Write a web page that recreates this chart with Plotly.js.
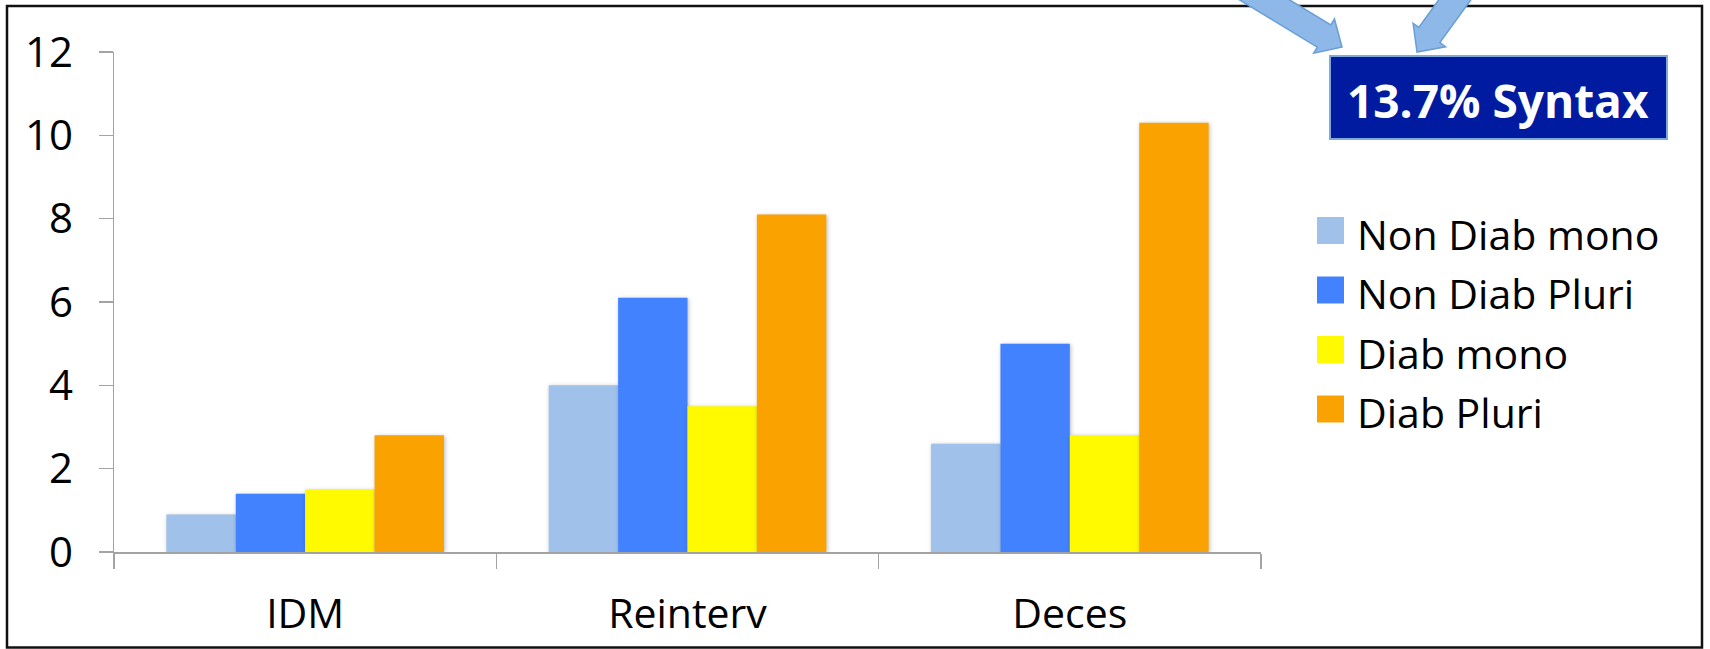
<!DOCTYPE html>
<html>
<head>
<meta charset="utf-8">
<script src="https://cdn.plot.ly/plotly-3.0.1.min.js"></script>
<style>
  html, body { margin: 0; padding: 0; background: #ffffff; }
  #chart { width: 1710px; height: 649px; }
  .barlayer .point path { filter: drop-shadow(1px 1px 2px rgba(0,0,0,0.28)); }
</style>
</head>
<body>
<div id="chart"></div>
<script>
// Outcome rates by diabetic status and vessel disease
const categories = ['IDM', 'Reinterv', 'Deces'];
const seriesNames = ['Non Diab mono', 'Non Diab Pluri', 'Diab mono', 'Diab Pluri'];
const nonDiabMono = [0.9, 4.0, 2.6];
const nonDiabPluri = [1.4, 6.1, 5.0];
const diabMono = [1.5, 3.5, 2.8];
const diabPluri = [2.8, 8.1, 10.3];
const yTicks = [0, 2, 4, 6, 8, 10, 12];
const calloutText = '13.7% Syntax';

const seriesValues = [nonDiabMono, nonDiabPluri, diabMono, diabPluri];
const seriesColors = ['#A0C2EA', '#4282FF', '#FFFA00', '#F9A200'];

const W = 1710, H = 649;
const M = { l: 114, r: 449, t: 52, b: 97 };
const PW = W - M.l - M.r, PH = H - M.t - M.b;
// page pixels -> paper coordinates
const px = x => (x - M.l) / PW;
const py = y => (H - M.b - y) / PH;

const FONT = '"Open Sans", "DejaVu Sans", sans-serif';
const AXIS_GREY = '#A3A3A3';

const traces = seriesNames.map((name, i) => ({
  type: 'bar',
  name: name,
  x: categories,
  y: seriesValues[i],
  marker: { color: seriesColors[i], line: { width: 0 } },
  showlegend: false,
  hoverinfo: 'x+y+name'
}));

// block arrow polygon: tip point, direction, head length/half-width, shaft half-width, tail length
function arrowPath(tip, dir, headLen, headHalf, shaftHalf, tailLen) {
  const len = Math.hypot(dir[0], dir[1]);
  const d = [dir[0] / len, dir[1] / len];
  const n = [-d[1], d[0]];
  const base = [tip[0] - d[0] * headLen, tip[1] - d[1] * headLen];
  const tail = [base[0] - d[0] * tailLen, base[1] - d[1] * tailLen];
  const pts = [
    tip,
    [base[0] + n[0] * headHalf, base[1] + n[1] * headHalf],
    [base[0] + n[0] * shaftHalf, base[1] + n[1] * shaftHalf],
    [tail[0] + n[0] * shaftHalf, tail[1] + n[1] * shaftHalf],
    [tail[0] - n[0] * shaftHalf, tail[1] - n[1] * shaftHalf],
    [base[0] - n[0] * shaftHalf, base[1] - n[1] * shaftHalf],
    [base[0] - n[0] * headHalf, base[1] - n[1] * headHalf]
  ];
  return 'M' + pts.map(p => px(p[0]).toFixed(5) + ',' + py(p[1]).toFixed(5)).join('L') + 'Z';
}

const shapes = [];
const annotations = [];

// outer frame
shapes.push({
  type: 'rect', xref: 'paper', yref: 'paper', layer: 'above',
  x0: px(7), x1: px(1702), y0: py(647.5), y1: py(6),
  line: { color: '#111111', width: 2.5 }, fillcolor: 'rgba(0,0,0,0)'
});

// legend swatches and labels
const legendRows = [230.5, 290, 349.5, 409];
seriesNames.forEach((name, i) => {
  const cy = legendRows[i];
  shapes.push({
    type: 'rect', xref: 'paper', yref: 'paper', layer: 'above',
    x0: px(1317), x1: px(1344), y0: py(cy + 13.5), y1: py(cy - 13.5),
    fillcolor: seriesColors[i], line: { width: 0 }
  });
  annotations.push({
    xref: 'paper', yref: 'paper', x: px(1355), y: py(cy + 3),
    xanchor: 'left', yanchor: 'middle', showarrow: false,
    text: name, font: { family: FONT, size: 41, color: '#000000' }
  });
});

// callout box
shapes.push({
  type: 'rect', xref: 'paper', yref: 'paper', layer: 'above',
  x0: px(1330), x1: px(1667), y0: py(139), y1: py(56),
  fillcolor: '#001BA0', line: { color: '#7FA9DA', width: 2 }
});
annotations.push({
  xref: 'paper', yref: 'paper', x: px(1498), y: py(100),
  xanchor: 'center', yanchor: 'middle', showarrow: false,
  text: '<b>' + calloutText + '</b>',
  font: { family: FONT, size: 46, color: '#FFFFFF' }
});

// pointer arrows into the callout
const arrowStyle = { fillcolor: '#8DB8E8', line: { color: '#6A9ED6', width: 1.5 } };
shapes.push(Object.assign({
  type: 'path', xref: 'paper', yref: 'paper', layer: 'above',
  path: arrowPath([1342, 47], [0.855, 0.52], 21, 20, 13, 120)
}, arrowStyle));
shapes.push(Object.assign({
  type: 'path', xref: 'paper', yref: 'paper', layer: 'above',
  path: arrowPath([1417, 52], [-0.587, 0.81], 21, 20, 13, 120)
}, arrowStyle));

const layout = {
  width: W, height: H,
  margin: M,
  paper_bgcolor: '#FFFFFF', plot_bgcolor: '#FFFFFF',
  font: { family: FONT, size: 41, color: '#000000' },
  barmode: 'group', bargap: 0.274, bargroupgap: 0,
  showlegend: false,
  xaxis: {
    type: 'category',
    categoryorder: 'array', categoryarray: categories,
    showline: true, linecolor: AXIS_GREY, linewidth: 1.5,
    ticks: 'outside', tickson: 'boundaries', ticklen: 15, tickwidth: 1.5, tickcolor: AXIS_GREY,
    ticklabelstandoff: 25,
    showgrid: false, zeroline: false,
    tickfont: { family: FONT, size: 41, color: '#000000' }
  },
  yaxis: {
    range: [0, 12], tickvals: yTicks, ticktext: yTicks.map(String),
    showline: true, linecolor: AXIS_GREY, linewidth: 1.5,
    ticks: 'outside', ticklen: 14, tickwidth: 1.5, tickcolor: AXIS_GREY,
    ticklabelstandoff: 17,
    showgrid: false, zeroline: false,
    tickfont: { family: FONT, size: 42, color: '#000000' }
  },
  shapes: shapes,
  annotations: annotations
};

Plotly.newPlot('chart', traces, layout, { displayModeBar: false, staticPlot: true });
</script>
</body>
</html>
